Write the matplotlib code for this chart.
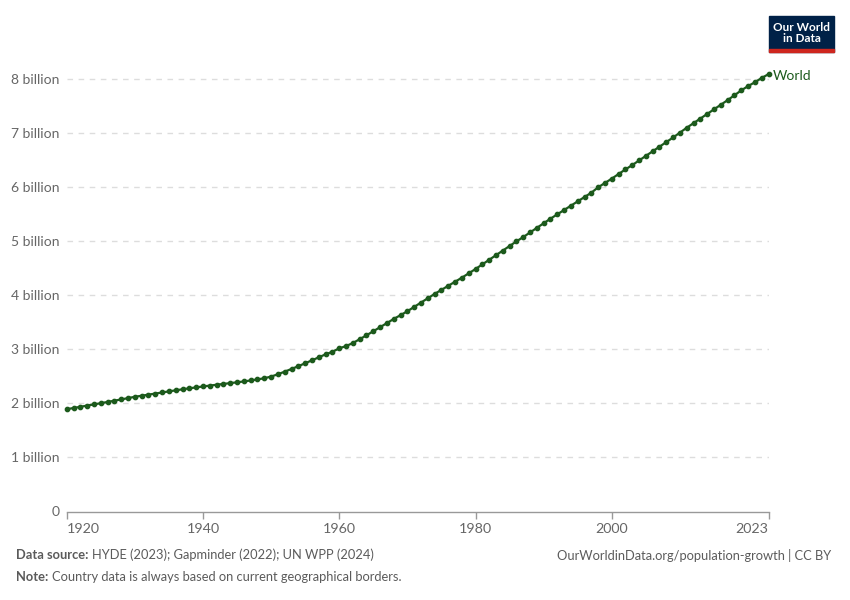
import matplotlib
matplotlib.use("Agg")
import matplotlib.pyplot as plt
from matplotlib.patches import Rectangle

plt.rcParams['font.family'] = ['Lato', 'DejaVu Sans']

years = list(range(1920, 2024))
population_bn = [
    1.890, 1.912, 1.934, 1.957, 1.979, 2.001, 2.024, 2.047, 2.071, 2.095,
    2.119, 2.139, 2.159, 2.179, 2.199, 2.219, 2.239, 2.258, 2.276, 2.293,
    2.310, 2.326, 2.342, 2.357, 2.372, 2.387, 2.403, 2.421, 2.441, 2.462,
    2.493, 2.536, 2.584, 2.634, 2.685, 2.739, 2.793, 2.849, 2.904, 2.951,
    3.015, 3.056, 3.113, 3.183, 3.256, 3.330, 3.406, 3.481, 3.558, 3.628,
    3.700, 3.780, 3.860, 3.940, 4.020, 4.095, 4.170, 4.245, 4.320, 4.400,
    4.480, 4.565, 4.650, 4.735, 4.820, 4.905, 4.990, 5.070, 5.155, 5.240,
    5.325, 5.410, 5.490, 5.570, 5.650, 5.730, 5.810, 5.890, 5.990, 6.070,
    6.150, 6.235, 6.320, 6.400, 6.485, 6.570, 6.655, 6.740, 6.825, 6.910,
    7.000, 7.090, 7.175, 7.260, 7.345, 7.430, 7.515, 7.600, 7.690, 7.780,
    7.860, 7.930, 8.010, 8.080,
]
series_name = "World"
y_ticks = [0, 1, 2, 3, 4, 5, 6, 7, 8]
y_tick_labels = ["0", "1 billion", "2 billion", "3 billion", "4 billion",
                 "5 billion", "6 billion", "7 billion", "8 billion"]
x_ticks = [1920, 1940, 1960, 1980, 2000, 2023]
x_tick_labels = ["1920", "1940", "1960", "1980", "2000", "2023"]

W, H = 850, 600
fig = plt.figure(figsize=(8.5, 6), dpi=100)
ax_l, ax_r, ax_b = 66.7, 768.5, 511.5
ymax = 8.2
px_per = (511.5 - 78.5) / 8.0
ax_t = ax_b - ymax * px_per
ax = fig.add_axes([ax_l / W, 1 - ax_b / H, (ax_r - ax_l) / W, (ax_b - ax_t) / H])

line_color = "#1c5a1c"
ax.plot(years, population_bn, color=line_color, lw=1.6, marker="o", ms=3.1,
        zorder=3, clip_on=False)
ax.text(years[-1] + 0.6, population_bn[-1] - 0.04, series_name, color=line_color,
        fontsize=10, va="center", ha="left")

ax.set_xlim(1920, 2023)
ax.set_ylim(0, ymax)

for s in ["top", "right", "left"]:
    ax.spines[s].set_visible(False)
ax.spines["bottom"].set_color("#999999")
ax.spines["bottom"].set_linewidth(1.0)

ax.set_yticks(y_ticks)
ax.set_yticklabels(y_tick_labels)
ax.tick_params(axis="y", length=0, pad=5, labelsize=10, labelcolor="#666666")
ax.set_xticks(x_ticks)
ax.set_xticklabels(x_tick_labels)
ax.tick_params(axis="x", length=5, width=1, color="#999999", pad=3,
               labelsize=10.3, labelcolor="#666666")
xl = ax.get_xticklabels()
xl[0].set_ha("left")
xl[-1].set_ha("right")

for v in y_ticks[1:]:
    ax.axhline(v, color="#dddddd", lw=1, ls=(0, (4, 4)), zorder=1)

# Logo
def fx(x): return x / W
def fy(y): return 1 - y / H
fig.patches.append(Rectangle((fx(769), fy(52)), (834 - 769) / W, 36 / H,
                             transform=fig.transFigure, color="#002147", zorder=5))
fig.patches.append(Rectangle((fx(769), fy(52)), (834 - 769) / W, 3 / H,
                             transform=fig.transFigure, color="#ce261e", zorder=6))
fig.text(fx(801.5), fy(33), "Our World\nin Data", color="white", fontsize=8.5,
         fontweight="bold", ha="center", va="center", linespacing=0.95, zorder=7)

# Footer
foot_color = "#5b5b5b"
fs = 9.3
t1 = fig.text(fx(16), fy(555), "Data source:", fontsize=fs, fontweight="bold",
              color=foot_color, va="center", ha="left")
fig.canvas.draw()
r = fig.canvas.get_renderer()
bb = t1.get_window_extent(r)
fig.text((bb.x1 + 3.5) / W, fy(555), "HYDE (2023); Gapminder (2022); UN WPP (2024)",
         fontsize=fs, color=foot_color, va="center", ha="left")
t2 = fig.text(fx(16), fy(577), "Note:", fontsize=fs, fontweight="bold",
              color=foot_color, va="center", ha="left")
bb2 = t2.get_window_extent(r)
fig.text((bb2.x1 + 3.5) / W, fy(577), "Country data is always based on current geographical borders.",
         fontsize=fs, color=foot_color, va="center", ha="left")
fig.text(fx(831), fy(555), "OurWorldinData.org/population-growth | CC BY",
         fontsize=fs, color=foot_color, va="center", ha="right")

fig.savefig("out.png", dpi=100, facecolor="white")
